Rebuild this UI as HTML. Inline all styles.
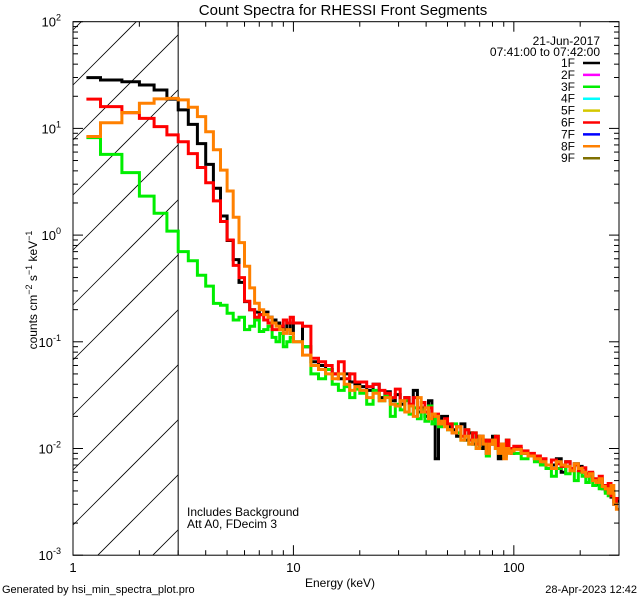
<!DOCTYPE html>
<html><head><meta charset="utf-8"><style>
html,body{margin:0;padding:0;background:#fff;overflow:hidden;width:640px;height:600px;}
svg{display:block;font-family:"Liberation Sans",sans-serif;}
</style></head><body>
<svg id="chart" width="640" height="600" viewBox="0 0 640 600">
<text x="343" y="15" text-anchor="middle" font-size="15">Count Spectra for RHESSI Front Segments</text>
<g id="hatch"></g>
<g id="series"></g>
<g id="axes"></g>
<text x="187" y="516" font-size="12">Includes Background</text>
<text x="187" y="528" font-size="12">Att A0, FDecim 3</text>
<text x="340" y="587" text-anchor="middle" font-size="12">Energy (keV)</text>
<text transform="translate(37,290) rotate(-90)" text-anchor="middle" font-size="12">counts cm<tspan dy="-5" font-size="9">−2</tspan><tspan dy="5"> s</tspan><tspan dy="-5" font-size="9">−1</tspan><tspan dy="5"> keV</tspan><tspan dy="-5" font-size="9">−1</tspan></text>
<text x="2" y="593" font-size="11">Generated by hsi_min_spectra_plot.pro</text>
<text x="637" y="593" text-anchor="end" font-size="11">28-Apr-2023 12:42</text>
<text x="600" y="45" text-anchor="end" font-size="12">21-Jun-2017</text>
<text x="600" y="56" text-anchor="end" font-size="12">07:41:00 to 07:42:00</text>
<g id="legend"></g>
</svg>
<script>
const legendLabels=["1F","2F","3F","4F","5F","6F","7F","8F","9F"];
const legendColors=["#000000","#ff00ff","#00ee00","#00ffff","#d4c800","#ff0000","#0000ff","#ff8000","#7f7000"];
const edgeBreaks=[1.15,1.3333];
const seriesNames=["1F","3F","6F","8F"];
const seriesColors=["#000000","#00ee00","#ff0000","#ff8000"];
const black=[29.9,28.4,27.4,25.5,22.9,18.8,14.9,10.9,7.2,4.6,2.75,1.51,0.89,0.59,0.36,0.238,0.2,0.19,0.18,0.19,0.17,0.16,0.15,0.14,0.13,0.15,0.12,
0.15,0.09,0.065,0.06,0.055,0.05,0.045,0.05,0.042,0.04,
0.038,0.035,0.04,0.03,0.034,0.028,0.032,0.026,0.03,0.025,0.035,0.022,0.024,0.02,0.028,0.019,0.008,0.018,0.02,0.02,
0.016,0.015,0.013,0.017,0.012,0.014,0.011,0.013,0.01,0.012,0.009,0.011,0.013,0.01,0.008,0.011,0.009,0.012,0.01,0.009,
0.01,0.009,0.0085,0.008,0.0075,0.0065,0.007,0.008,0.006,0.0075,0.0065,0.0072,0.0068,0.006,0.0055,0.0058,0.005,0.0046,0.0052,0.0042,0.004,0.0045,0.0035,0.003,0.0032];
const green=[8.2,5.7,3.85,2.32,1.6,1.09,0.70,0.575,0.42,0.333,0.229,0.22,0.185,0.16,0.17,0.13,0.14,0.16,0.125,0.13,0.14,0.11,0.1,0.12,0.09,0.1,0.11,
0.1,0.09,0.05,0.045,0.055,0.04,0.035,0.038,0.03,0.036,
0.033,0.026,0.035,0.028,0.031,0.02,0.026,0.023,0.028,0.021,0.024,0.019,0.023,0.018,0.025,0.017,0.02,0.016,0.018,0.017,
0.015,0.017,0.014,0.012,0.015,0.011,0.014,0.01,0.013,0.012,0.0085,0.012,0.011,0.013,0.0095,0.011,0.0085,0.012,0.0095,0.01,
0.009,0.008,0.0085,0.0075,0.007,0.0065,0.0055,0.0065,0.0068,0.0058,0.0062,0.005,0.006,0.0055,0.0048,0.0058,0.0045,0.005,0.0042,0.0045,0.0038,0.0036,0.004,0.0032,0.0034];
const red=[18.8,16.0,14.0,12.4,10.4,8.7,7.5,5.8,4.3,3.1,2.09,1.34,0.9,0.52,0.4,0.24,0.2,0.17,0.18,0.16,0.15,0.13,0.13,0.14,0.16,0.15,0.17,
0.15,0.14,0.07,0.065,0.06,0.05,0.065,0.045,0.05,0.042,
0.042,0.038,0.04,0.035,0.033,0.03,0.036,0.028,0.03,0.026,0.03,0.024,0.027,0.022,0.024,0.02,0.021,0.018,0.017,0.019,
0.017,0.014,0.016,0.013,0.015,0.012,0.014,0.011,0.013,0.012,0.01,0.012,0.011,0.013,0.01,0.011,0.0095,0.012,0.01,0.0095,
0.0105,0.0095,0.009,0.0085,0.008,0.007,0.0078,0.0072,0.0068,0.0075,0.0065,0.007,0.0062,0.0066,0.0058,0.006,0.0052,0.005,0.0055,0.0045,0.0042,0.0047,0.0036,0.0032,0.0034];
const orange=[8.4,11.3,14.1,17.2,18.9,19.1,18.5,15.8,12.9,9.3,6.3,4.07,2.59,1.47,0.85,0.51,0.32,0.23,0.2,0.18,0.17,0.15,0.14,0.13,0.12,0.13,0.12,
0.1,0.075,0.06,0.055,0.05,0.045,0.05,0.04,0.035,0.038,
0.035,0.03,0.033,0.028,0.03,0.026,0.025,0.028,0.022,0.025,0.02,0.03,0.022,0.024,0.019,0.021,0.02,0.017,0.018,0.016,
0.015,0.014,0.016,0.012,0.013,0.011,0.012,0.01,0.013,0.011,0.009,0.011,0.012,0.01,0.009,0.011,0.008,0.01,0.009,0.0095,
0.0098,0.009,0.0085,0.008,0.0075,0.007,0.0065,0.0075,0.007,0.0068,0.0062,0.0072,0.0065,0.006,0.0055,0.0058,0.005,0.0048,0.0052,0.0044,0.0042,0.0038,0.0045,0.003,0.0027];
const yTickExps=[-3,-2,-1,0,1,2];
const xTickLabels=["1","10","100"];
const xTickValues=[1,10,100];

const NS="http://www.w3.org/2000/svg";
const L=73,R=619,T=21.7,B=555.2;
const XMIN=1,XMAX=300,YMIN=1e-3,YMAX=100;
function sx(v){return L+(Math.log10(v)-Math.log10(XMIN))/(Math.log10(XMAX)-Math.log10(XMIN))*(R-L);}
function sy(v){return B-(Math.log10(v)-Math.log10(YMIN))/(Math.log10(YMAX)-Math.log10(YMIN))*(B-T);}
function mk(tag,attrs,parent){const e=document.createElementNS(NS,tag);for(const k in attrs)e.setAttribute(k,attrs[k]);parent.appendChild(e);return e;}

const edges=[edgeBreaks[0]];
for(let e=edgeBreaks[1];e<10.001;e+=1/3)edges.push(e);
edges[edges.length-1]=10;
for(let e=11;e<=20;e+=1)edges.push(e);
for(let e=21.5;e<=50.01;e+=1.5)edges.push(e);
for(let e=52.5;e<=100.01;e+=2.5)edges.push(e);
for(let e=108;e<=300.01;e+=8)edges.push(e);

const hatch=document.getElementById('hatch');
const X3=sx(3);
for(let c=158-55*3;c<900;c+=55){
  const xa=Math.max(L,c-B),xb=Math.min(X3,c-T);
  if(xb<=xa)continue;
  const ln=mk('line',{x1:xa,y1:c-xa,x2:xb,y2:c-xb,stroke:'#000','stroke-width':0.8},hatch);
  
  
}
const vl=mk('line',{x1:X3,y1:T,x2:X3,y2:B,stroke:'#000','stroke-width':1},hatch);



const sg=document.getElementById('series');
const scp=mk('clipPath',{id:'pclip'},sg);
mk('rect',{x:L,y:T,width:R-L,height:B-T},scp);
const allData=[black,green,red,orange];
allData.forEach((arr,i)=>{
  let d='';
  for(let k=0;k<arr.length&&k+1<edges.length;k++){
    const y=sy(arr[k]).toFixed(1),x0=sx(edges[k]).toFixed(1),x1=sx(edges[k+1]).toFixed(1);
    d+=(k===0?'M':'L')+x0+' '+y+'L'+x1+' '+y;
  }
  const p=mk('path',{d:d,fill:'none',stroke:seriesColors[i],'stroke-width':3,'clip-path':'url(#pclip)','stroke-linejoin':'miter'},sg);
  
  
});

const ax=document.getElementById('axes');
const frame=mk('rect',{x:L,y:T,width:R-L,height:B-T,fill:'none',stroke:'#000','stroke-width':1},ax);


yTickExps.forEach(ex=>{
  const v=Math.pow(10,ex),y=sy(v);
  mk('line',{x1:L,y1:y,x2:L+10,y2:y,stroke:'#000'},ax);
  mk('line',{x1:R,y1:y,x2:R-10,y2:y,stroke:'#000'},ax);
  const t=mk('text',{x:L-12,y:y+5,'text-anchor':'end','font-size':13},ax);
  
  
  t.innerHTML='10<tspan dy="-6" font-size="9">'+ex+'</tspan>';
  if(ex<2)for(let m=2;m<=9;m++){const yy=sy(m*v);
    mk('line',{x1:L,y1:yy,x2:L+5,y2:yy,stroke:'#000'},ax);
    mk('line',{x1:R,y1:yy,x2:R-5,y2:yy,stroke:'#000'},ax);}
});
for(let dec=1;dec<=100;dec*=10){for(let m=1;m<=9;m++){const v=m*dec;if(v>XMAX)break;const x=sx(v);const len=m===1?10:5;
  mk('line',{x1:x,y1:B,x2:x,y2:B-len,stroke:'#000'},ax);
  mk('line',{x1:x,y1:T,x2:x,y2:T+len,stroke:'#000'},ax);}}
xTickValues.forEach((v,i)=>{
  const t=mk('text',{x:sx(v),y:B+17,'text-anchor':'middle','font-size':13},ax);
  
  
  t.textContent=xTickLabels[i];
});

const lg=document.getElementById('legend');
legendLabels.forEach((lab,i)=>{
  const y=67+i*11.9;
  const t=mk('text',{x:575,y:y,'text-anchor':'end','font-size':12},lg);
  
  
  t.textContent=lab;
  const l=mk('line',{x1:583,y1:y-4,x2:600,y2:y-4,stroke:legendColors[i],'stroke-width':2.5},lg);
  
  
});
</script>
</body></html>
